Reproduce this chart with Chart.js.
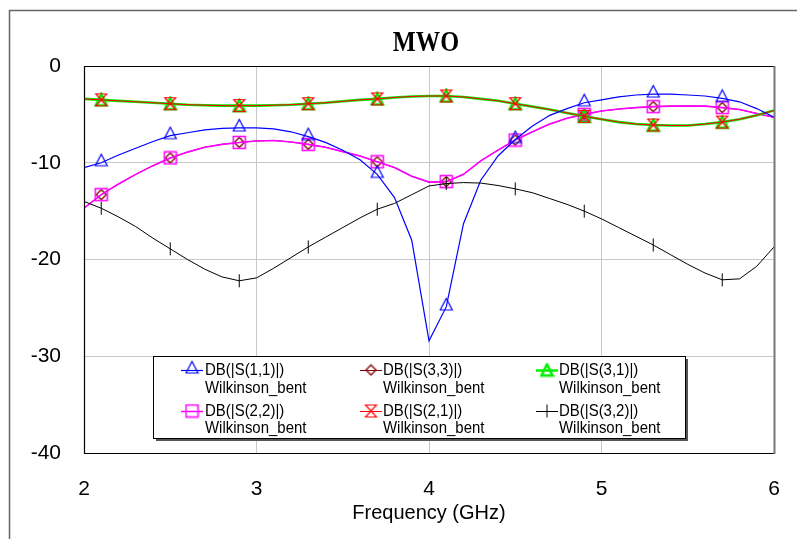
<!DOCTYPE html>
<html>
<head>
<meta charset="utf-8">
<script src="https://cdn.jsdelivr.net/npm/chart.js@4.4.1/dist/chart.umd.min.js"></script>
<style>
  html, body { margin: 0; padding: 0; background: #fff; }
  canvas { display: block; }
</style>
</head>
<body>
<canvas id="mwoChart" width="797" height="539"></canvas>
<script>
// frequency sweep (GHz)
const freqs = [2.0, 2.1, 2.2, 2.3, 2.4, 2.5, 2.6, 2.7, 2.8, 2.9,
               3.0, 3.1, 3.2, 3.3, 3.4, 3.5, 3.6, 3.7, 3.8, 3.9,
               4.0, 4.1, 4.2, 4.3, 4.4, 4.5, 4.6, 4.7, 4.8, 4.9,
               5.0, 5.1, 5.2, 5.3, 5.4, 5.5, 5.6, 5.7, 5.8, 5.9, 6.0];

// dB values
const s11 = [-10.5, -10.0, -9.2, -8.5, -7.8, -7.2, -6.9, -6.6, -6.45, -6.4,
             -6.4, -6.5, -6.8, -7.3, -7.9, -8.7, -9.7, -11.2, -13.6, -18.0,
             -28.4, -24.9, -16.3, -11.8, -9.3, -7.6, -6.2, -5.1, -4.4, -3.8,
             -3.5, -3.2, -3.0, -2.9, -2.9, -3.0, -3.1, -3.35, -3.7, -4.4, -5.3];
const s22 = [-14.7, -13.3, -12.2, -11.2, -10.3, -9.5, -8.9, -8.4, -8.1, -7.9,
             -7.75, -7.7, -7.85, -8.1, -8.4, -8.85, -9.3, -9.9, -10.5, -11.4,
             -12.0, -11.95, -11.2, -9.8, -8.7, -7.65, -6.8, -6.0, -5.4, -5.0,
             -4.65, -4.45, -4.3, -4.2, -4.15, -4.13, -4.15, -4.3, -4.5, -4.9, -5.3];
const s33 = [-14.7, -13.3, -12.2, -11.2, -10.3, -9.5, -8.9, -8.4, -8.1, -7.9,
             -7.75, -7.7, -7.85, -8.1, -8.4, -8.85, -9.3, -9.9, -10.5, -11.4,
             -12.0, -11.95, -11.2, -9.8, -8.7, -7.65, -6.8, -6.0, -5.4, -5.0,
             -4.65, -4.45, -4.3, -4.2, -4.15, -4.13, -4.15, -4.3, -4.5, -4.9, -5.3];
const s31 = [-3.4, -3.5, -3.6, -3.7, -3.8, -3.9, -4.0, -4.05, -4.1, -4.1,
             -4.1, -4.05, -4.0, -3.9, -3.8, -3.65, -3.5, -3.4, -3.25, -3.15,
             -3.1, -3.1, -3.2, -3.4, -3.6, -3.9, -4.2, -4.5, -4.85, -5.2,
             -5.5, -5.8, -6.0, -6.1, -6.15, -6.15, -6.0, -5.8, -5.5, -5.1, -4.6];
const s21 = [-3.4, -3.5, -3.6, -3.7, -3.8, -3.9, -4.0, -4.05, -4.1, -4.1,
             -4.1, -4.05, -4.0, -3.9, -3.8, -3.65, -3.5, -3.4, -3.25, -3.15,
             -3.1, -3.1, -3.2, -3.4, -3.6, -3.9, -4.2, -4.5, -4.85, -5.2,
             -5.5, -5.8, -6.0, -6.1, -6.15, -6.15, -6.0, -5.8, -5.5, -5.1, -4.6];
const s32 = [-14.0, -14.7, -15.6, -16.6, -17.8, -18.9, -20.0, -21.0, -21.8, -22.2,
             -21.9, -20.9, -19.8, -18.7, -17.7, -16.7, -15.7, -14.8, -14.2, -13.3,
             -12.4, -12.15, -12.05, -12.1, -12.35, -12.7, -13.1, -13.7, -14.3, -15.0,
             -15.8, -16.7, -17.6, -18.5, -19.5, -20.5, -21.4, -22.1, -22.0, -20.7, -18.7];

const seriesNames = ['DB(|S(1,1)|)', 'DB(|S(3,3)|)', 'DB(|S(3,1)|)',
                     'DB(|S(2,2)|)', 'DB(|S(2,1)|)', 'DB(|S(3,2)|)'];
const sourceName = 'Wilkinson_bent';
const xTicks = [2, 3, 4, 5, 6];
const yTicks = [0, -10, -20, -30, -40];

// marker glyphs
function makeMarker(w, h, draw) {
    const c = document.createElement('canvas');
    c.width = w;
    c.height = h;
    draw(c.getContext('2d'));
    return c;
}

const markTriBlue = makeMarker(15, 20, function(g) {
    g.strokeStyle = '#0000ff';
    g.lineWidth = 1.2;
    g.beginPath();
    g.moveTo(7.5, 1.5); g.lineTo(13.5, 13); g.lineTo(1.5, 13); g.closePath();
    g.stroke();
});
const markTriGreen = makeMarker(15, 15, function(g) {
    g.strokeStyle = '#00ee00';
    g.lineWidth = 2.5;
    g.beginPath();
    g.moveTo(7.5, 1.8); g.lineTo(13, 13); g.lineTo(2, 13); g.closePath();
    g.stroke();
});
const markHourglass = makeMarker(15, 15, function(g) {
    g.strokeStyle = '#ff0000';
    g.lineWidth = 1.2;
    g.beginPath();
    g.moveTo(2, 1.5); g.lineTo(13, 1.5); g.lineTo(2, 13.5); g.lineTo(13, 13.5); g.closePath();
    g.stroke();
});
const markSquare = makeMarker(15, 15, function(g) {
    g.strokeStyle = '#ff00ff';
    g.lineWidth = 1.5;
    g.strokeRect(1.5, 1.5, 12, 12);
});
const markDiamond = makeMarker(15, 15, function(g) {
    g.strokeStyle = '#800000';
    g.lineWidth = 1.4;
    g.beginPath();
    g.moveTo(7.5, 2.5); g.lineTo(12.5, 7.5); g.lineTo(7.5, 12.5); g.lineTo(2.5, 7.5); g.closePath();
    g.stroke();
});
const markTick = makeMarker(15, 15, function(g) {
    g.strokeStyle = '#000000';
    g.lineWidth = 1;
    g.beginPath();
    g.moveTo(7.5, 1); g.lineTo(7.5, 14);
    g.stroke();
});

function points(values) {
    return freqs.map(function(f, i) { return { x: f, y: values[i] }; });
}

// markers only every 4th sweep point, starting at 2.1 GHz
function markerRadius(ctx) {
    return ctx.dataIndex % 4 === 1 ? 6 : 0;
}

function series(values, color, width, mark) {
    return {
        data: points(values),
        borderColor: color,
        backgroundColor: color,
        borderWidth: width,
        pointStyle: mark,
        pointRadius: markerRadius,
        tension: 0
    };
}

// first dataset ends up on top
const datasets = [
    series(s32, '#000000', 1, markTick),
    series(s11, '#0000ff', 1.2, markTriBlue),
    series(s21, '#ff0000', 1, markHourglass),
    series(s31, '#00ee00', 2.6, markTriGreen),
    series(s22, '#ff00ff', 1.6, markSquare),
    series(s33, '#800000', 1, markDiamond)
];

const legendRows = [
    [{ name: seriesNames[0], color: '#0000ff', lw: 1.2, mark: markTriBlue },
     { name: seriesNames[1], color: '#800000', lw: 1, mark: markDiamond },
     { name: seriesNames[2], color: '#00ee00', lw: 2.5, mark: markTriGreen }],
    [{ name: seriesNames[3], color: '#ff00ff', lw: 1.5, mark: markSquare },
     { name: seriesNames[4], color: '#ff0000', lw: 1, mark: markHourglass },
     { name: seriesNames[5], color: '#000000', lw: 1, mark: markTick }]
];

function squeezedText(ctx, text, x, y, sx) {
    ctx.save();
    ctx.translate(x, y);
    ctx.scale(sx, 1);
    ctx.fillText(text, 0, 0);
    ctx.restore();
}

const framePlugin = {
    id: 'mwoFrame',
    afterDatasetsDraw(chart) {
        const ctx = chart.ctx;
        const a = chart.chartArea;
        ctx.save();
        ctx.strokeStyle = '#000';
        ctx.lineWidth = 1.2;
        ctx.beginPath();
        ctx.moveTo(a.right, a.top + 0.5);
        ctx.lineTo(a.left + 0.5, a.top + 0.5);
        ctx.lineTo(a.left + 0.5, a.bottom + 0.5);
        ctx.lineTo(a.right, a.bottom + 0.5);
        ctx.stroke();
        ctx.strokeStyle = '#777';
        ctx.lineWidth = 2;
        ctx.beginPath();
        ctx.moveTo(a.right + 0.5, a.top);
        ctx.lineTo(a.right + 0.5, a.bottom + 1);
        ctx.stroke();
        ctx.restore();
    },
    afterDraw(chart) {
        const ctx = chart.ctx;
        ctx.save();
        // outer frame
        ctx.strokeStyle = '#666';
        ctx.lineWidth = 1.5;
        ctx.beginPath();
        ctx.moveTo(9.5, 539);
        ctx.lineTo(9.5, 10.5);
        ctx.lineTo(797, 10.5);
        ctx.stroke();

        // title
        ctx.fillStyle = '#000';
        ctx.font = 'bold 29px "Liberation Serif", "Times New Roman", serif';
        ctx.textAlign = 'center';
        ctx.textBaseline = 'middle';
        squeezedText(ctx, 'MWO', 426, 44, 0.84);

        // legend box
        const bx = 153, by = 356, bw = 532, bh = 82;
        ctx.fillStyle = '#555';
        ctx.fillRect(bx + 3, by + 3, bw, bh);
        ctx.fillStyle = '#fff';
        ctx.fillRect(bx, by, bw, bh);
        ctx.strokeStyle = '#000';
        ctx.lineWidth = 1;
        ctx.strokeRect(bx + 0.5, by + 0.5, bw, bh);

        const markX = [192, 371, 547];
        const textX = [205, 383, 559];
        const rowY = [[370, 388], [411, 428]];
        ctx.font = '17px "Liberation Sans", Arial, sans-serif';
        ctx.textAlign = 'left';
        ctx.textBaseline = 'middle';
        legendRows.forEach(function(row, r) {
            row.forEach(function(item, c) {
                const y = rowY[r][0];
                ctx.strokeStyle = item.color;
                ctx.lineWidth = item.lw;
                ctx.beginPath();
                ctx.moveTo(markX[c] - 11, y + 0.5);
                ctx.lineTo(markX[c] + 11, y + 0.5);
                ctx.stroke();
                ctx.drawImage(item.mark, markX[c] - item.mark.width / 2, y - item.mark.height / 2);
                ctx.fillStyle = '#000';
                squeezedText(ctx, item.name, textX[c], y, 0.88);
                squeezedText(ctx, sourceName, textX[c], rowY[r][1], 0.88);
            });
        });
        ctx.restore();
    }
};

new Chart(document.getElementById('mwoChart'), {
    type: 'line',
    data: { datasets: datasets },
    options: {
        responsive: false,
        animation: false,
        events: [],
        layout: { padding: { top: 66, right: 23, bottom: 0, left: 0 } },
        plugins: {
            legend: { display: false },
            tooltip: { enabled: false }
        },
        scales: {
            x: {
                type: 'linear',
                min: 2,
                max: 6,
                afterFit: function(scale) { scale.height = 86; },
                afterBuildTicks: function(scale) {
                    scale.ticks = xTicks.map(function(v) { return { value: v }; });
                },
                // invisible tick marks push the labels down without widening the side padding
                grid: { color: '#c8c8c8', lineWidth: 1, drawTicks: true, tickLength: 24, tickColor: 'rgba(0,0,0,0)' },
                border: { display: false },
                ticks: {
                    color: '#000',
                    padding: 0,
                    maxRotation: 0,
                    font: { family: '"Liberation Sans", Arial, sans-serif', size: 21 }
                },
                title: {
                    display: true,
                    text: 'Frequency (GHz)',
                    color: '#000',
                    padding: { top: 0, bottom: 14 },
                    font: { family: '"Liberation Sans", Arial, sans-serif', size: 20 }
                }
            },
            y: {
                min: -40,
                max: 0,
                afterFit: function(scale) { scale.width = 84; },
                afterBuildTicks: function(scale) {
                    scale.ticks = yTicks.map(function(v) { return { value: v }; });
                },
                grid: { color: '#c8c8c8', lineWidth: 1, drawTicks: true, tickLength: 23, tickColor: 'rgba(0,0,0,0)' },
                border: { display: false },
                ticks: {
                    color: '#000',
                    padding: 0,
                    font: { family: '"Liberation Sans", Arial, sans-serif', size: 21 }
                }
            }
        }
    },
    plugins: [framePlugin]
});
</script>
</body>
</html>
